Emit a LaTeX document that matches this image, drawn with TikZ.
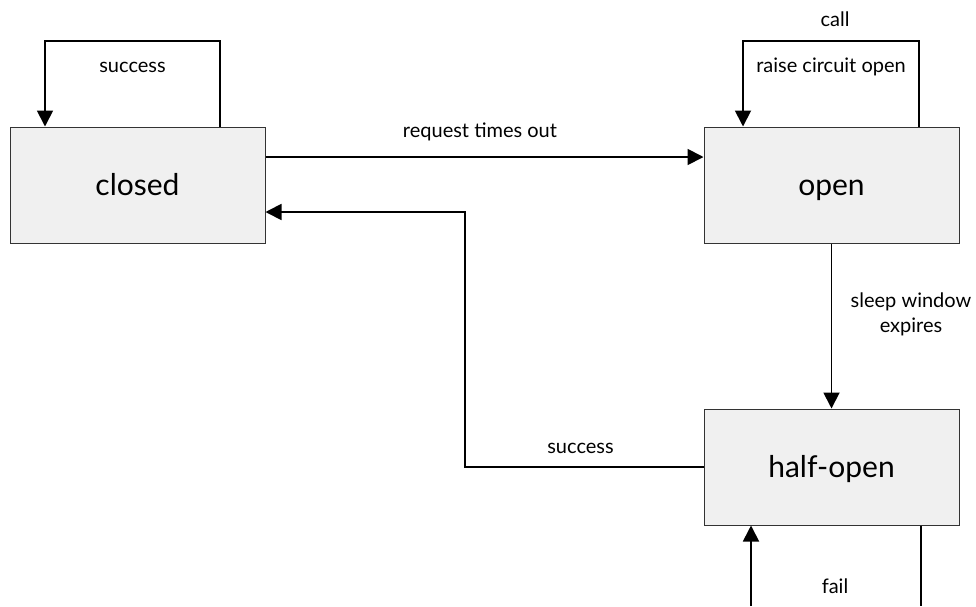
\documentclass[tikz,border=0pt]{standalone}
\usepackage{fontspec}
\setmainfont{Lato}
\usetikzlibrary{arrows.meta}
\begin{document}
\begin{tikzpicture}[x=1pt,y=1pt,
  state/.style={draw=black!80, line width=1pt, fill=black!6,
    minimum width=255pt, minimum height=116pt, inner sep=0pt,
    text height=20pt, text depth=0pt,
    font=\fontsize{30}{34}\selectfont},
  conn/.style={line width=1.8pt, -{Triangle[width=16pt,length=16pt]}},
  wire/.style={line width=1.8pt},
  lbl/.style={font=\fontsize{20}{24}\selectfont, inner sep=0pt, anchor=base}]
  \useasboundingbox (0,0) rectangle (976,-606);

  % states
  \node[state] (closed) at (137.5,-185) {closed};
  \node[state] (open)   at (831.5,-185) {open};
  \node[state] (half)   at (831.5,-467) {half-open};

  % helper coordinates for the loops and bends
  \coordinate (cl1) at (220,-41);
  \coordinate (cl2) at (45,-41);
  \coordinate (op1) at (919,-41);
  \coordinate (op2) at (743,-41);
  \coordinate (bk1) at (465,-212);
  \coordinate (bk2) at (465,-467);
  \coordinate (fl1) at (921,-606);
  \coordinate (fl2) at (751,-606);

  % closed: success loop
  \draw[conn] (closed.north -| cl1) -- (cl1) -- (cl2) -- (closed.north -| cl2);
  \node[lbl] at (132.5,-72) {success};

  % closed -> open
  \draw[conn] (closed.east |- 0,-157) -- (open.west |- 0,-157);
  \node[lbl] at (480,-137) {request times out};

  % open: call loop
  \draw[conn] (open.north -| op1) -- (op1) -- (op2) -- (open.north -| op2);
  \node[lbl] at (835,-26) {call};
  \node[lbl] at (831,-72) {raise circuit open};

  % open -> half-open
  \draw[conn] (open.south) -- (half.north);
  \node[lbl] at (911,-307) {sleep window};
  \node[lbl] at (911,-332) {expires};

  % half-open -> closed
  \draw[conn] (half.west) -- (bk2) -- (bk1) -- (closed.east |- bk1);
  \node[lbl] at (580.5,-453) {success};

  % half-open: fail loop
  \draw[wire] (half.south -| fl1) -- (fl1);
  \draw[conn] (fl2) -- (half.south -| fl2);
  \node[lbl] at (835,-593) {fail};
\end{tikzpicture}
\end{document}
